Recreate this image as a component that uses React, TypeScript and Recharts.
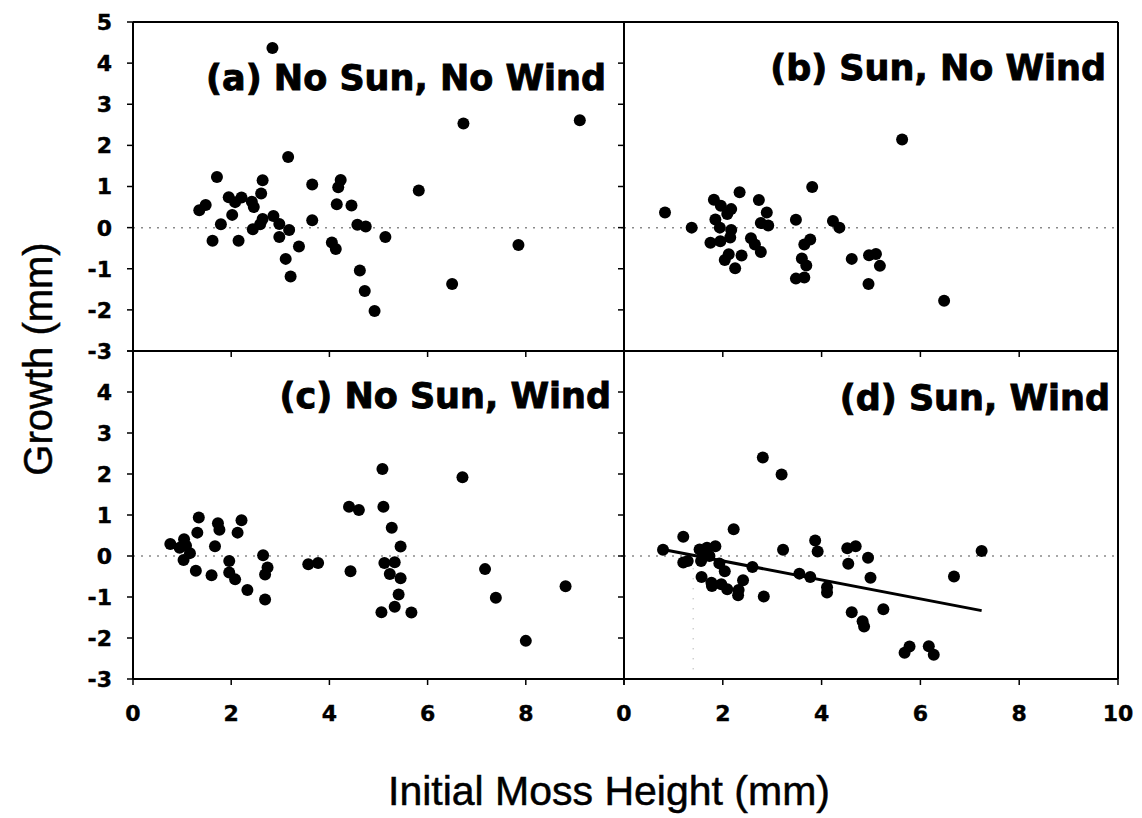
import React from "react";
import { ScatterChart, Scatter, XAxis, YAxis, ReferenceLine } from "recharts";

// initial moss height (mm) vs growth (mm), one pair of arrays per treatment
const heightA = [2.84, 6.73, 9.1, 3.16, 1.71, 2.64, 3.65, 4.23, 4.18, 5.82, 2.61, 1.48, 1.35, 1.95, 2.08, 2.21, 2.42, 2.46, 2.02, 4.15, 4.45, 1.79, 2.64, 2.59, 2.44, 2.86, 2.98, 3.18, 3.65, 4.57, 4.74, 1.62, 2.15, 2.98, 3.38, 5.14, 4.05, 4.13, 7.85, 3.11, 3.21, 4.62, 4.72, 4.92, 6.5];
const growthA = [4.37, 2.53, 2.61, 1.72, 1.23, 1.15, 1.05, 1.16, 0.98, 0.9, 0.83, 0.55, 0.42, 0.74, 0.62, 0.73, 0.63, 0.5, 0.31, 0.57, 0.54, 0.08, 0.21, 0.08, -0.04, 0.28, 0.09, -0.06, 0.18, 0.07, 0.03, -0.32, -0.32, -0.23, -0.46, -0.23, -0.36, -0.52, -0.42, -0.76, -1.19, -1.04, -1.54, -2.03, -1.37];

const heightB = [0.83, 1.37, 1.82, 1.96, 2.17, 2.09, 1.85, 1.94, 2.34, 2.73, 2.89, 2.77, 2.92, 2.17, 2.15, 1.75, 1.95, 2.57, 2.65, 2.77, 2.12, 2.04, 2.38, 2.25, 3.48, 3.81, 4.23, 4.36, 3.77, 3.65, 3.6, 3.69, 3.48, 3.65, 5.63, 4.61, 4.96, 5.1, 5.18, 4.95, 6.48];
const growthB = [0.37, 0.0, 0.68, 0.53, 0.45, 0.33, 0.2, 0.0, 0.86, 0.67, 0.37, 0.11, 0.05, -0.06, -0.24, -0.37, -0.33, -0.26, -0.41, -0.59, -0.65, -0.79, -0.68, -0.99, 0.19, 0.99, 0.16, 0.0, -0.29, -0.41, -0.75, -0.92, -1.24, -1.21, 2.14, -0.76, -0.67, -0.64, -0.93, -1.37, -1.78];

const heightC = [0.76, 0.95, 1.04, 1.08, 1.16, 1.03, 1.34, 1.31, 1.28, 1.67, 1.73, 1.76, 1.6, 1.96, 1.96, 2.08, 2.13, 2.21, 2.33, 2.65, 2.74, 2.69, 2.69, 3.57, 3.77, 4.4, 4.6, 4.43, 5.08, 5.1, 5.27, 5.45, 5.12, 5.33, 5.23, 5.45, 5.41, 5.33, 5.06, 5.67, 6.71, 7.17, 7.39, 8.81, 8.0];
const growthC = [0.29, 0.2, 0.41, 0.25, 0.07, -0.1, 0.94, 0.57, -0.36, 0.24, 0.8, 0.64, -0.47, -0.12, -0.4, -0.57, 0.57, 0.87, -0.83, 0.02, -0.28, -0.45, -1.06, -0.2, -0.17, 1.2, 1.12, -0.37, 2.12, 1.2, 0.69, 0.23, -0.17, -0.15, -0.44, -0.54, -0.94, -1.24, -1.37, -1.38, 1.92, -0.32, -1.02, -0.74, -2.07];

const heightD = [0.79, 1.2, 1.2, 1.29, 1.53, 1.6, 1.56, 1.68, 1.85, 1.73, 1.93, 2.04, 1.57, 1.77, 1.78, 1.97, 2.09, 2.22, 2.41, 2.32, 2.31, 2.6, 2.83, 2.81, 3.19, 3.22, 3.55, 3.77, 3.87, 3.92, 4.11, 4.11, 4.52, 4.69, 4.54, 4.94, 4.99, 4.61, 4.83, 4.86, 5.25, 5.68, 5.78, 6.17, 6.27, 6.68, 7.24];
const growthD = [0.15, 0.47, -0.16, -0.12, 0.16, 0.04, -0.12, 0.2, 0.24, 0.0, -0.18, -0.37, -0.51, -0.65, -0.73, -0.69, -0.81, 0.65, -0.59, -0.83, -0.96, -0.27, -0.99, 2.4, 1.99, 0.15, -0.43, -0.51, 0.38, 0.11, -0.76, -0.89, 0.19, 0.24, -0.19, -0.04, -0.53, -1.37, -1.59, -1.72, -1.3, -2.36, -2.21, -2.2, -2.41, -0.5, 0.12];

// least-squares line for the sun + wind treatment
const fitD = { intercept: 0.34, slope: -0.231 };

const titles = ["(a) No Sun, No Wind", "(b) Sun, No Wind", "(c) No Sun, Wind", "(d) Sun, Wind"];
const xTicks = [0, 2, 4, 6, 8, 10];
const yTicks = [-3, -2, -1, 0, 1, 2, 3, 4, 5];

const toPoints = (xs: number[], ys: number[]) => xs.map((x, i) => ({ x, y: ys[i] }));

const fitLine = [Math.min(...heightD), Math.max(...heightD)].map((x) => ({
  x,
  y: fitD.intercept + fitD.slope * x,
}));

const axisLine = { stroke: "#000", strokeWidth: 2 };
const tickLine = { stroke: "#000", strokeWidth: 1.5 };
const blank = () => "";

type Fmt = (v: number) => string;

// bold tick labels, drawn at the position the axis hands over
function tickText(props: any, fmt: Fmt, side: "x" | "y") {
  const label = fmt(props.payload.value);
  if (!label) return <g />;
  return (
    <text
      x={props.x}
      y={props.y}
      dy={side === "x" ? "0.72em" : "0.36em"}
      textAnchor={side === "x" ? "middle" : "end"}
      fontFamily="DejaVu Sans"
      fontWeight={700}
      fontSize={22}
      fill="#000"
      stroke="#000"
      strokeWidth={0.4}
    >
      {label}
    </text>
  );
}

function Dot(props: any) {
  if (props.cx == null || props.cy == null) return <g />;
  return <circle cx={props.cx} cy={props.cy} r={6} fill="#000" />;
}

type PanelProps = {
  left: number;
  top: number;
  leftW: number;
  plotW: number;
  rightW: number;
  topH: number;
  plotH: number;
  bottomH: number;
  points: { x: number; y: number }[];
  xFormat: Fmt;
  yFormat: Fmt;
  fit?: { x: number; y: number }[];
  children?: React.ReactNode;
};

function Panel(p: PanelProps) {
  const width = p.leftW + p.plotW + p.rightW;
  const height = p.topH + p.plotH + p.bottomH;
  return (
    <div style={{ position: "absolute", left: p.left, top: p.top }}>
      <ScatterChart width={width} height={height} margin={{ top: 0, right: 0, bottom: 0, left: 0 }}>
        <XAxis
          type="number"
          dataKey="x"
          domain={[0, 10]}
          ticks={xTicks}
          interval={0}
          height={p.bottomH}
          axisLine={axisLine}
          tickLine={tickLine}
          tickSize={6}
          tickMargin={20}
          tick={(t: any) => tickText(t, p.xFormat, "x")}
        />
        <XAxis
          xAxisId="top"
          orientation="top"
          type="number"
          dataKey="x"
          domain={[0, 10]}
          ticks={xTicks}
          interval={0}
          height={p.topH}
          axisLine={axisLine}
          tickLine={tickLine}
          tickSize={5}
          tick={(t: any) => tickText(t, blank, "x")}
        />
        <YAxis
          type="number"
          dataKey="y"
          domain={[-3, 5]}
          ticks={yTicks}
          interval={0}
          width={p.leftW}
          axisLine={axisLine}
          tickLine={tickLine}
          tickSize={6}
          tickMargin={15}
          tick={(t: any) => tickText(t, p.yFormat, "y")}
        />
        <YAxis
          yAxisId="right"
          orientation="right"
          type="number"
          dataKey="y"
          domain={[-3, 5]}
          ticks={yTicks}
          interval={0}
          width={p.rightW}
          axisLine={axisLine}
          tickLine={tickLine}
          tickSize={5}
          tick={(t: any) => tickText(t, blank, "y")}
        />
        <ReferenceLine y={0} stroke="#8a8a8a" strokeWidth={1.5} strokeDasharray="2 6" />
        {p.children}
        <Scatter data={p.points} shape={Dot} isAnimationActive={false} />
        {p.fit && (
          <Scatter
            data={p.fit}
            line={{ stroke: "#000", strokeWidth: 3 }}
            shape={() => <g />}
            isAnimationActive={false}
          />
        )}
      </ScatterChart>
    </div>
  );
}

const fmt = (v: number) => String(v);

export default function App() {
  return (
    <div style={{ position: "absolute", left: 0, top: 0, width: 1142, height: 818, background: "#fff" }}>
      <Panel left={0} top={0} leftW={133} plotW={491} rightW={10} topH={22} plotH={329} bottomH={22}
        points={toPoints(heightA, growthA)} xFormat={blank} yFormat={fmt} />
      <Panel left={614} top={0} leftW={10} plotW={494} rightW={10} topH={22} plotH={329} bottomH={22}
        points={toPoints(heightB, growthB)} xFormat={blank} yFormat={blank} />
      <Panel left={0} top={341} leftW={133} plotW={491} rightW={10} topH={10} plotH={328} bottomH={60}
        points={toPoints(heightC, growthC)}
        xFormat={(v) => (v === 10 ? "" : String(v))}
        yFormat={(v) => (v === 5 ? "" : String(v))} />
      <Panel left={614} top={341} leftW={10} plotW={494} rightW={24} topH={10} plotH={328} bottomH={60}
        points={toPoints(heightD, growthD)} xFormat={fmt} yFormat={blank} fit={fitLine}>
        <ReferenceLine
          segment={[{ x: 1.4, y: -0.3 }, { x: 1.4, y: -3 }]}
          stroke="#9a9a9a"
          strokeWidth={1}
          strokeDasharray="1 9"
        />
      </Panel>
      <svg width={1142} height={818} style={{ position: "absolute", left: 0, top: 0, pointerEvents: "none" }}>
        <g fontFamily="DejaVu Sans" fontWeight={700} fontSize={35} fill="#000" stroke="#000" strokeWidth={0.9} textAnchor="end">
          <text x={606} y={90}>{titles[0]}</text>
          <text x={1106} y={80}>{titles[1]}</text>
          <text x={611} y={408}>{titles[2]}</text>
          <text x={1110} y={410}>{titles[3]}</text>
        </g>
        <text x={609} y={805} textAnchor="middle" fontFamily="Liberation Sans" fontSize={41} fill="#000" stroke="#000" strokeWidth={0.5}>
          Initial Moss Height (mm)
        </text>
        <text
          transform="translate(52, 359) rotate(-90)"
          textAnchor="middle"
          fontFamily="Liberation Sans"
          fontSize={40}
          fill="#000"
          stroke="#000"
          strokeWidth={0.5}
        >
          Growth (mm)
        </text>
      </svg>
    </div>
  );
}
